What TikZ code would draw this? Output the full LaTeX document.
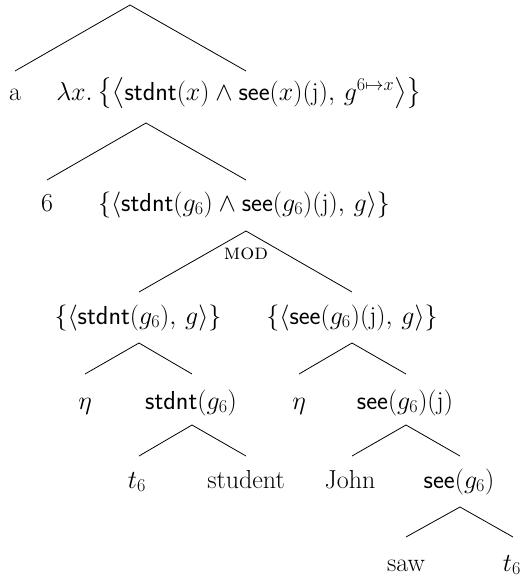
\RequirePackage{fix-cm}
\documentclass[tikz,border=0pt]{standalone}
\usepackage{amsmath,amssymb}
\usepackage{fontspec}
\newcommand{\fn}[1]{\mathsf{#1}}
\begin{document}
\begin{tikzpicture}[x=1pt,y=-1pt,
  lbl/.style={inner sep=0pt, anchor=base, font=\fontsize{26}{30}\selectfont},
  edge/.style={line width=0.8pt}]
\useasboundingbox (0,0) rectangle (525,579);
% apex / branch coordinates
\coordinate (r) at (130,5);
\coordinate (r-l) at (15,71);
\coordinate (r-r) at (246,71);
\coordinate (b) at (146,123);
\coordinate (b-l) at (47,180);
\coordinate (b-r) at (246,180);
\coordinate (c) at (246,231);
\coordinate (c-l) at (139,292);
\coordinate (c-r) at (352,292);
\coordinate (d) at (139,343);
\coordinate (d-l) at (85,374);
\coordinate (d-r) at (192,374);
\coordinate (e) at (352,343);
\coordinate (e-l) at (299,374);
\coordinate (e-r) at (406,374);
\coordinate (f) at (192,425);
\coordinate (f-l) at (139,456);
\coordinate (f-r) at (246,456);
\coordinate (g) at (406,425);
\coordinate (g-l) at (352,456);
\coordinate (g-r) at (460,456);
\coordinate (h) at (460,507);
\coordinate (h-l) at (406,537);
\coordinate (h-r) at (513,537);
% labels
\node[lbl] (a) at (15,100) {a};
\node[lbl] (lam) at (239,100) {$\lambda x.\,\bigl\{\bigl\langle \fn{stdnt}(x)\wedge\fn{see}(x)(\mathrm{j}),\, g^{6\mapsto x}\bigr\rangle\bigr\}$};
\node[lbl] (six) at (47,211) {6};
\node[lbl] (conj) at (244,211) {$\{\langle \fn{stdnt}(g_6)\wedge\fn{see}(g_6)(\mathrm{j}),\, g\rangle\}$};
\node[inner sep=0pt, anchor=base, font=\fontsize{22}{26}\selectfont] (mod) at (246,259) {\textsc{mod}};
\node[lbl] (ls) at (138,324) {$\{\langle \fn{stdnt}(g_6),\, g\rangle\}$};
\node[lbl] (rs) at (352,324) {$\{\langle \fn{see}(g_6)(\mathrm{j}),\, g\rangle\}$};
\node[lbl] (eta1) at (85,409) {$\eta$};
\node[lbl] (sg) at (191,409) {$\fn{stdnt}(g_6)$};
\node[lbl] (eta2) at (299,409) {$\eta$};
\node[lbl] (sgj) at (405,409) {$\fn{see}(g_6)(\mathrm{j})$};
\node[lbl] (t1) at (137,488) {$t_6$};
\node[lbl] (stu) at (246,488) {student};
\node[lbl] (john) at (350,488) {John};
\node[lbl] (seeg) at (459,488) {$\fn{see}(g_6)$};
\node[lbl] (saw) at (406,571) {saw};
\node[lbl] (t2) at (512,571) {$t_6$};
% edges
\draw[edge] (r-l) -- (r) -- (r-r);
\draw[edge] (b-l) -- (b) -- (b-r);
\draw[edge] (c-l) -- (c) -- (c-r);
\draw[edge] (d-l) -- (d) -- (d-r);
\draw[edge] (e-l) -- (e) -- (e-r);
\draw[edge] (f-l) -- (f) -- (f-r);
\draw[edge] (g-l) -- (g) -- (g-r);
\draw[edge] (h-l) -- (h) -- (h-r);
\end{tikzpicture}
\end{document}
